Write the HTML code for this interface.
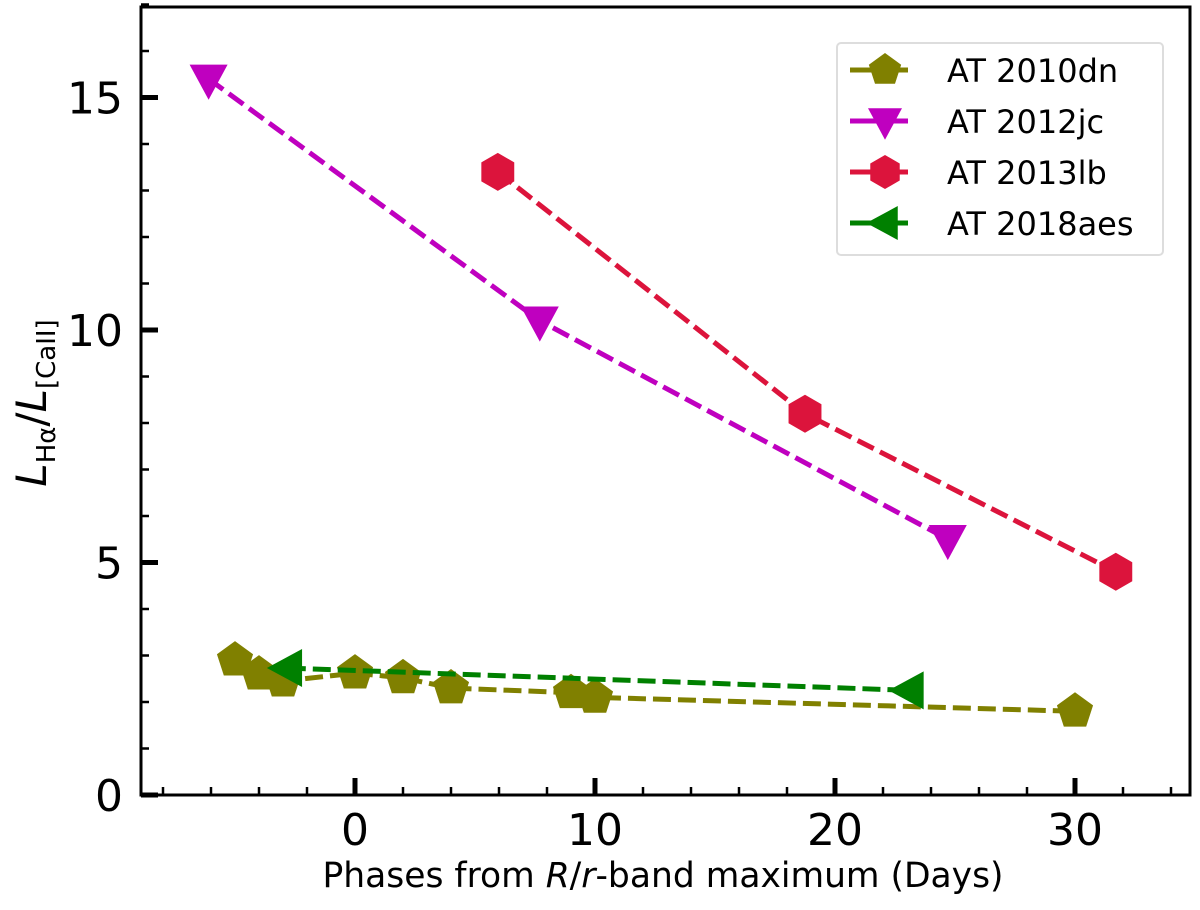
<!DOCTYPE html>
<html><head><meta charset="utf-8"><style>
body{margin:0;background:#fff;font-family:"Liberation Sans","DejaVu Sans",sans-serif}
</style></head><body>
<svg id="chart" width="1200" height="905" xmlns="http://www.w3.org/2000/svg" font-family="'DejaVu Sans','Liberation Sans',sans-serif">
<g id="marks"></g>
<g id="axes"></g>
<text x="663" y="887" font-size="34.5" text-anchor="middle">Phases from <tspan font-style="italic">R</tspan>/<tspan font-style="italic">r</tspan>-band maximum (Days)</text>
<text transform="translate(46,403) rotate(-90)" font-size="42" text-anchor="middle"><tspan font-style="italic">L</tspan><tspan font-size="26" dy="9">Hα</tspan><tspan dy="-9">/</tspan><tspan font-style="italic">L</tspan><tspan font-size="26" dy="9">[CaII]</tspan></text>
<g>
<rect x="837" y="43" width="326" height="212" rx="4" fill="#fff" stroke="#ddd" stroke-width="2"/>
<g id="legend-entries"></g>
</g>
</svg>
<script>
const names=["AT 2010dn","AT 2012jc","AT 2013lb","AT 2018aes"];
const colors=["#808000","#bf00bf","#dc143c","#008000"];
const x2010dn=[-5,-4,-3,0,2,4,9,10,30];
const y2010dn=[2.9,2.6,2.45,2.62,2.52,2.3,2.2,2.1,1.8];
const x2012jc=[-6.1,7.7,24.7];
const y2012jc=[15.4,10.2,5.5];
const x2013lb=[5.95,18.75,31.7];
const y2013lb=[13.4,8.2,4.8];
const x2018aes=[-2.8,23.1];
const y2018aes=[2.73,2.25];
const xTicks=[0,10,20,30];
const yTicks=[0,5,10,15];

const L=141,R=1190,T=7,B=795;
const X=d=>355+d*24;
const Y=v=>795-v*46.5;
const NS="http://www.w3.org/2000/svg";
function mk(t,a,p){const e=document.createElementNS(NS,t);for(const k in a)e.setAttribute(k,a[k]);p.appendChild(e);return e;}
function marker(type,cx,cy,r,col,p){
  let pts=[];
  if(type==="pent"){for(let i=0;i<5;i++){const a=-Math.PI/2+i*2*Math.PI/5;pts.push([cx+r*Math.cos(a),cy+r*Math.sin(a)]);}}
  else if(type==="tri_down"){pts=[[cx-r,cy-r*0.75],[cx+r,cy-r*0.75],[cx,cy+r*1.1]];}
  else if(type==="hex"){for(let i=0;i<6;i++){const a=-Math.PI/2+i*Math.PI/3;pts.push([cx+r*Math.cos(a),cy+r*Math.sin(a)]);}}
  else {pts=[[cx-r*1.1,cy],[cx+r*0.75,cy-r],[cx+r*0.75,cy+r]];}
  return mk("polygon",{points:pts.map(q=>q.join(",")).join(" "),fill:col},p);
}
const series=[[x2010dn,y2010dn,"pent"],[x2012jc,y2012jc,"tri_down"],[x2013lb,y2013lb,"hex"],[x2018aes,y2018aes,"tri_left"]];
const g=document.getElementById("marks");
series.forEach((s,i)=>{
  const [xs,ys,m]=s;
  const pl=mk("polyline",{points:xs.map((x,j)=>X(x)+","+Y(ys[j])).join(" "),fill:"none",stroke:colors[i],"stroke-width":5,"stroke-dasharray":"18,7"},g);
  
  
  xs.forEach((x,j)=>{
    const el=marker(m,X(x),Y(ys[j]),19,colors[i],g);
    
    
  });
});
const a=document.getElementById("axes");
mk("rect",{x:L,y:T,width:R-L,height:B-T,fill:"none",stroke:"#000","stroke-width":3},a);
for(let d=-8;d<=34;d+=2){const maj=d%10===0;mk("line",{x1:X(d),x2:X(d),y1:B,y2:B-(maj?17:8),stroke:"#000","stroke-width":maj?5:2.5},a);}
for(let v=0;v<=17;v++){const maj=v%5===0;mk("line",{x1:L,x2:L+(maj?17:8),y1:Y(v),y2:Y(v),stroke:"#000","stroke-width":maj?5:2.5},a);}
xTicks.forEach(t=>{const e=mk("text",{x:X(t),y:845,"font-size":44,"text-anchor":"middle"},a);e.textContent=t;

});
yTicks.forEach(t=>{const e=mk("text",{x:123,y:Y(t)+16,"font-size":44,"text-anchor":"end"},a);e.textContent=t;

});
const lg=document.getElementById("legend-entries");
const types=["pent","tri_down","hex","tri_left"];
names.forEach((n,i)=>{
  const y=70+i*51;
  mk("line",{x1:850,x2:908,y1:y,y2:y,stroke:colors[i],"stroke-width":5},lg);
  const mkr=marker(types[i],885,y,17,colors[i],lg);
  
  
  const t=mk("text",{x:947,y:y+12,"font-size":32},lg);t.textContent=n;
  
  
});
</script>
</body></html>
